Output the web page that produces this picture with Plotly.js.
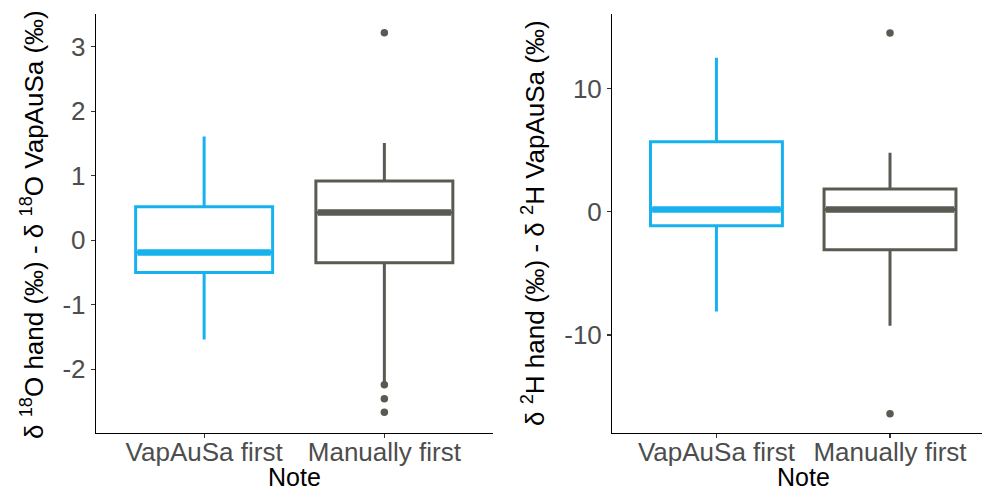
<!DOCTYPE html>
<html>
<head>
<meta charset="utf-8">
<script src="https://cdn.plot.ly/plotly-3.0.1.min.js"></script>
<style>html,body{margin:0;padding:0;background:#fff;}#chart{width:982px;height:493px;}</style>
</head>
<body>
<div id="chart"></div>
<script>
// Categories (x positions 1, 2)
const categories = ["VapAuSa first", "Manually first"];
const catPos = [1, 2];
const colors = ["#17B2EE", "#5A5A52"];

// δ18O panel box statistics (per category)
const o18Lower  = [-1.54, -2.20];
const o18Q1     = [-0.50, -0.35];
const o18Median = [-0.19, 0.43];
const o18Q3     = [0.52, 0.92];
const o18Upper  = [1.61, 1.51];
const o18OutliersVap = [];
const o18OutliersMan = [3.22, -2.24, -2.46, -2.67];
const o18Ticks = [-2, -1, 0, 1, 2, 3];
const o18TickText = ["-2", "-1", "0", "1", "2", "3"];

// δ2H panel box statistics (per category)
const h2Lower  = [-8.1, -9.25];
const h2Q1     = [-1.14, -3.08];
const h2Median = [0.19, 0.19];
const h2Q3     = [5.68, 1.84];
const h2Upper  = [12.5, 4.79];
const h2OutliersVap = [];
const h2OutliersMan = [14.5, -16.4];
const h2Ticks = [-10, 0, 10];
const h2TickText = ["-10", "0", "10"];

const boxWidth = 0.76;

function panel(xa, ya, lo, q1, med, q3, hi, outs) {
  const traces = [];
  for (let i = 0; i < categories.length; i++) {
    traces.push({
      type: "box", xaxis: xa, yaxis: ya,
      x: [catPos[i]], q1: [q1[i]], median: [med[i]], q3: [q3[i]],
      lowerfence: [lo[i]], upperfence: [hi[i]],
      width: boxWidth, whiskerwidth: 0,
      line: {color: colors[i], width: 3},
      fillcolor: "rgba(0,0,0,0)",
      boxpoints: false, showlegend: false, hoverinfo: "skip"
    });
    // thicker median line
    traces.push({
      type: "scatter", mode: "lines", xaxis: xa, yaxis: ya,
      x: [catPos[i] - boxWidth / 2 + 0.01, catPos[i] + boxWidth / 2 - 0.01],
      y: [med[i], med[i]],
      line: {color: colors[i], width: 6.5},
      showlegend: false, hoverinfo: "skip"
    });
    traces.push({
      type: "scatter", mode: "markers", xaxis: xa, yaxis: ya,
      x: outs[i].map(() => catPos[i]), y: outs[i],
      marker: {color: colors[i], size: 7.5},
      showlegend: false, hoverinfo: "skip"
    });
  }
  return traces;
}

const data = [].concat(
  panel("x", "y", o18Lower, o18Q1, o18Median, o18Q3, o18Upper, [o18OutliersVap, o18OutliersMan]),
  panel("x2", "y2", h2Lower, h2Q1, h2Median, h2Q3, h2Upper, [h2OutliersVap, h2OutliersMan])
);

const FAM = "Liberation Sans, Arial, sans-serif";
const tickFont = {family: FAM, size: 26, color: "#4D4D4D"};
const titleFont = {family: FAM, size: 26, color: "#000"};
const noteFont = {family: FAM, size: 25, color: "#000"};

const xBase = {
  type: "linear", tickvals: catPos, ticktext: categories,
  showline: true, linecolor: "#000", linewidth: 1.3,
  ticks: "outside", ticklen: 4, tickcolor: "#333", tickwidth: 1.2,
  ticklabelstandoff: -9,
  showgrid: false, zeroline: false, tickfont: tickFont, fixedrange: true
};
const yBase = {
  showline: true, linecolor: "#000", linewidth: 1.3,
  ticks: "outside", ticklen: 4, tickcolor: "#333", tickwidth: 1.2,
  showgrid: false, zeroline: false, tickfont: tickFont, fixedrange: true
};

const yDom = [1 - 433 / 493, 1 - 14 / 493];

const layout = {
  width: 982, height: 493,
  margin: {l: 0, r: 0, t: 0, b: 0},
  paper_bgcolor: "#fff", plot_bgcolor: "#fff",
  boxmode: "overlay", showlegend: false,
  xaxis: Object.assign({}, xBase, {domain: [96 / 982, 492.5 / 982], range: [0.4, 2.6], anchor: "y"}),
  yaxis: Object.assign({}, yBase, {domain: yDom, range: [-2.99, 3.51], tickvals: o18Ticks, ticktext: o18TickText, anchor: "x"}),
  xaxis2: Object.assign({}, xBase, {domain: [612.3 / 982, 1], range: [0.4, 2.53], anchor: "y2"}),
  yaxis2: Object.assign({}, yBase, {domain: yDom, range: [-17.96, 16.05], tickvals: h2Ticks, ticktext: h2TickText, anchor: "x2"}),
  annotations: [
    {text: "Note", xref: "paper", yref: "paper", x: 294 / 982, y: 0,
     showarrow: false, font: noteFont, xanchor: "center", yanchor: "bottom"},
    {text: "Note", xref: "paper", yref: "paper", x: 803 / 982, y: 0,
     showarrow: false, font: noteFont, xanchor: "center", yanchor: "bottom"},
    {text: "δ <sup>18</sup>O hand (‰) - δ <sup>18</sup>O VapAuSa (‰)", xref: "paper", yref: "paper",
     x: 32 / 982, y: 1 - 225 / 493, textangle: -90, showarrow: false, font: titleFont,
     xanchor: "center", yanchor: "middle"},
    {text: "δ <sup>2</sup>H hand (‰) - δ <sup>2</sup>H VapAuSa (‰)", xref: "paper", yref: "paper",
     x: 534 / 982, y: 1 - 223 / 493, textangle: -90, showarrow: false, font: titleFont,
     xanchor: "center", yanchor: "middle"}
  ]
};

Plotly.newPlot("chart", data, layout, {staticPlot: true, displayModeBar: false});
</script>
</body>
</html>
